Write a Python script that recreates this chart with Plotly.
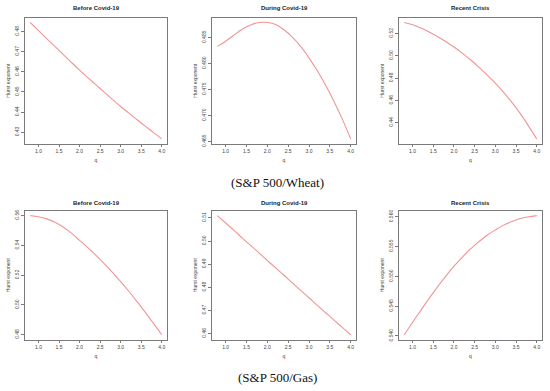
import plotly.graph_objects as go

q = [0.8, 1.0, 1.2, 1.4, 1.6, 1.8, 2.0, 2.2, 2.4, 2.6, 2.8, 3.0, 3.2, 3.4, 3.6, 3.8, 4.0]

wheat_before = [0.4845, 0.4805, 0.4765, 0.4726, 0.4687, 0.4647, 0.4608, 0.4571, 0.4535,
                0.4499, 0.4463, 0.4428, 0.4395, 0.4362, 0.4330, 0.4298, 0.4267]
wheat_during = [0.4833, 0.4843, 0.4855, 0.4866, 0.4874, 0.4879, 0.4879, 0.4875, 0.4865,
                0.4851, 0.4833, 0.4811, 0.4786, 0.4758, 0.4727, 0.4693, 0.4655]
wheat_recent = [0.5300, 0.5280, 0.5250, 0.5215, 0.5175, 0.5130, 0.5080, 0.5025, 0.4965,
                0.4900, 0.4830, 0.4755, 0.4672, 0.4582, 0.4484, 0.4372, 0.4255]
gas_before = [0.5600, 0.5592, 0.5578, 0.5555, 0.5523, 0.5482, 0.5434, 0.5385, 0.5333,
              0.5278, 0.5219, 0.5157, 0.5092, 0.5022, 0.4950, 0.4876, 0.4800]
gas_during = [0.5110, 0.5078, 0.5046, 0.5013, 0.4981, 0.4949, 0.4916, 0.4884, 0.4852,
              0.4819, 0.4787, 0.4755, 0.4722, 0.4690, 0.4658, 0.4627, 0.4595]
gas_recent = [0.5402, 0.5423, 0.5443, 0.5463, 0.5482, 0.5500, 0.5517, 0.5532, 0.5546,
              0.5558, 0.5569, 0.5578, 0.5586, 0.5592, 0.5597, 0.5600, 0.5602]

titles = ["Before Covid-19", "During Covid-19", "Recent Crisis",
          "Before Covid-19", "During Covid-19", "Recent Crisis"]
series = [wheat_before, wheat_during, wheat_recent, gas_before, gas_during, gas_recent]
y_ticks = [
    [0.43, 0.44, 0.45, 0.46, 0.47, 0.48],
    [0.465, 0.470, 0.475, 0.480, 0.485],
    [0.44, 0.46, 0.48, 0.50, 0.52],
    [0.48, 0.50, 0.52, 0.54, 0.56],
    [0.46, 0.47, 0.48, 0.49, 0.50, 0.51],
    [0.540, 0.545, 0.550, 0.555, 0.560],
]
y_fmt = [".2f", ".3f", ".2f", ".2f", ".2f", ".3f"]
x_ticks = [1.0, 1.5, 2.0, 2.5, 3.0, 3.5, 4.0]
captions = ["(S&P 500/Wheat)", "(S&P 500/Gas)"]

W, H = 550, 391
cols_px = [(25, 167), (212, 356), (399, 542)]
rows_px = [(17, 144), (212, 342)]
title_y_px = [7, 204]
caption_y_px = [183, 380]

fig = go.Figure()
line_col = "#f29494"
axis_col = "#7a7a7a"
font_fam = "Liberation Sans, Arial, sans-serif"

for i, (ys, t) in enumerate(zip(series, titles)):
    r, c = divmod(i, 3)
    xa = "x" if i == 0 else f"x{i+1}"
    ya = "y" if i == 0 else f"y{i+1}"
    fig.add_trace(go.Scatter(x=q, y=ys, mode="lines", line=dict(color=line_col, width=1.1, shape="spline"),
                             xaxis=xa, yaxis=ya, showlegend=False, hoverinfo="skip"))
    x0, x1 = cols_px[c]
    y0, y1 = rows_px[r]
    xd = [x0 / W, x1 / W]
    yd = [1 - y1 / H, 1 - y0 / H]
    xmin, xmax = min(q), max(q)
    px_ = (xmax - xmin) * 0.04
    ymin, ymax = min(ys), max(ys)
    py_ = (ymax - ymin) * 0.04
    axkey = "xaxis" if i == 0 else f"xaxis{i+1}"
    aykey = "yaxis" if i == 0 else f"yaxis{i+1}"
    fig.layout[axkey] = dict(
        domain=xd, anchor=ya, range=[xmin - px_, xmax + px_],
        tickvals=x_ticks, tickformat=".1f", ticks="outside", ticklen=3, tickwidth=0.8,
        tickcolor=axis_col, showline=True, mirror=True, linecolor=axis_col, linewidth=0.8,
        showgrid=False, zeroline=False, tickfont=dict(size=5, color="#444", family=font_fam),
        title=dict(text="q", font=dict(size=5, color="#444", family=font_fam), standoff=5),
    )
    fig.layout[aykey] = dict(
        domain=yd, anchor=xa, range=[ymin - py_, ymax + py_],
        tickvals=y_ticks[i], tickformat=y_fmt[i], tickangle=-90, ticks="outside", ticklen=3,
        tickwidth=0.8, tickcolor=axis_col, showline=True, mirror=True, linecolor=axis_col,
        linewidth=0.8, showgrid=False, zeroline=False,
        tickfont=dict(size=5, color="#444", family=font_fam),
        title=dict(text="Hurst exponent", font=dict(size=5, color="#444", family=font_fam), standoff=3),
    )
    fig.add_annotation(text=f"<b>{t}</b>", x=(xd[0] + xd[1]) / 2, y=1 - title_y_px[r] / H,
                       xref="paper", yref="paper", showarrow=False, xanchor="center", yanchor="middle",
                       font=dict(size=6, color="#222", family=font_fam))

for r, cap in enumerate(captions):
    fig.add_annotation(text=cap, x=277 / W, y=1 - caption_y_px[r] / H, xref="paper", yref="paper",
                       showarrow=False, xanchor="center", yanchor="middle",
                       font=dict(size=13, color="#111", family="Liberation Serif, DejaVu Serif, serif"))

fig.update_layout(width=W, height=H, margin=dict(l=0, r=0, t=0, b=0),
                  paper_bgcolor="white", plot_bgcolor="white")
fig.write_html("out.html", config={"displayModeBar": False},
               post_script="document.body.style.margin='0';document.body.style.overflow='hidden';")
